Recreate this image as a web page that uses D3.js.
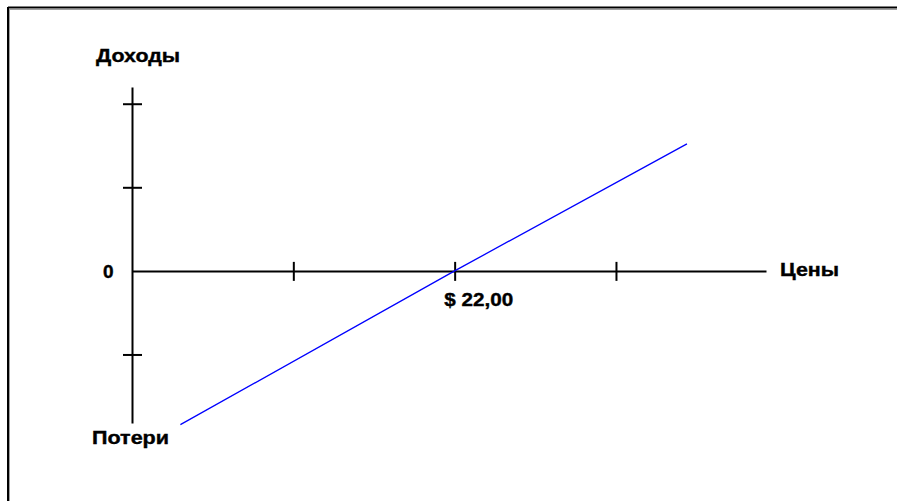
<!DOCTYPE html>
<html>
<head>
<meta charset="utf-8">
<script src="https://cdn.jsdelivr.net/npm/d3@7"></script>
<style>
  html, body { margin: 0; padding: 0; background: #fff; }
  svg text { font-family: "Liberation Sans", Arial, sans-serif; font-weight: bold; fill: #000; stroke: #000; stroke-width: 0.4px; }
</style>
</head>
<body>
<svg id="chart"></svg>
<script>
// price axis runs 0..3.93 units, profit axis -1.82..2.2 units
const priceTicks = [1, 2, 3];
const priceTickLabels = ["", "$ 22,00", ""];
const profitTicks = [-1, 0, 1, 2];
const profitTickLabels = ["", "0", "", ""];
const priceExtent = [0, 3.93];
const profitExtent = [-1.82, 2.2];
// break-even line
const linePrice = [0.3, 2, 3.44];
const lineProfit = [-1.84, 0, 1.52];

const width = 897,
  height = 501;

const svg = d3.select("#chart").attr("width", width).attr("height", height);

// sunken frame
svg.append("path").attr("d", "M8,7.5H897M8,7V501").attr("stroke", "#000").attr("stroke-width", 2).attr("fill", "none");
svg.append("path").attr("d", "M9.5,9.5H897M9.5,9V501").attr("stroke", "#a0a0a0").attr("stroke-width", 1).attr("fill", "none");

const x = d3.scaleLinear().domain(priceExtent).range([132, 766]);
const y = d3.scaleLinear().domain(profitExtent).range([423, 87]);

const xAxis = d3
  .axisBottom(x)
  .tickValues(priceTicks)
  .tickSizeInner(9)
  .tickSizeOuter(0)
  .tickFormat((d, i) => priceTickLabels[i]);

const yAxis = d3
  .axisLeft(y)
  .tickValues(profitTicks)
  .tickSizeInner(9)
  .tickSizeOuter(0)
  .tickFormat((d, i) => profitTickLabels[i]);

const gx = svg
  .append("g")
  .attr("transform", "translate(0," + y(0) + ")")
  .call(xAxis);
gx.select(".domain").attr("stroke", "#000").attr("stroke-width", 2);
gx.selectAll(".tick line").attr("y1", -9).attr("y2", 10).attr("stroke", "#000").attr("stroke-width", 2);
gx.selectAll(".tick text")
  .attr("font-size", 19)
  .attr("font-family", null)
  .attr("text-anchor", "start")
  .attr("x", -11)
  .attr("y", 35)
  .attr("dy", null)
  .each(function () {
    if (this.textContent) d3.select(this).attr("textLength", 69).attr("lengthAdjust", "spacingAndGlyphs");
  });

const gy = svg
  .append("g")
  .attr("transform", "translate(" + x(0) + ",0)")
  .call(yAxis);
gy.select(".domain").attr("stroke", "#000").attr("stroke-width", 2);
gy.selectAll(".tick line")
  .attr("x1", -9)
  .attr("x2", 10)
  .attr("stroke", d => (d === 0 ? "none" : "#000"))
  .attr("stroke-width", 2);
gy.selectAll(".tick text")
  .attr("font-size", 19)
  .attr("font-family", null)
  .attr("text-anchor", "start")
  .attr("x", -29)
  .attr("dy", null)
  .attr("y", 7);

// axis end titles
const titles = [
  { text: "Доходы", px: 96, py: 62, len: 84 },
  { text: "Потери", px: 92, py: 444, len: 77 },
  { text: "Цены", px: 780, py: 276, len: 59 }
];
svg
  .selectAll(".title")
  .data(titles)
  .enter()
  .append("text")
  .attr("class", "title")
  .attr("x", d => d.px)
  .attr("y", d => d.py)
  .attr("font-size", 19)
  .attr("textLength", d => d.len)
  .attr("lengthAdjust", "spacingAndGlyphs")
  .text(d => d.text);

const line = d3
  .line()
  .x(d => x(d[0]))
  .y(d => y(d[1]));

svg
  .append("path")
  .datum(d3.zip(linePrice, lineProfit))
  .attr("d", line)
  .attr("fill", "none")
  .attr("stroke", "#0000ff")
  .attr("stroke-width", 1.3);
</script>
</body>
</html>
